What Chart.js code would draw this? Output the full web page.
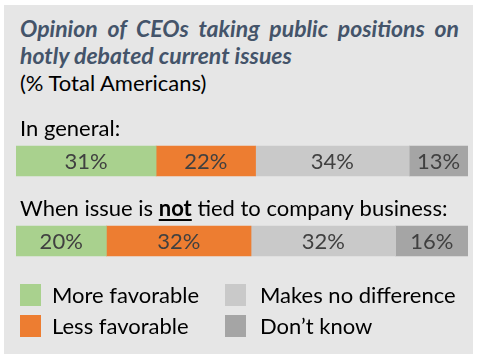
<!DOCTYPE html>
<html>
<head>
<meta charset="utf-8">
<script src="https://cdn.jsdelivr.net/npm/chart.js@4.4.1/dist/chart.umd.min.js"></script>
<style>
  html, body { margin: 0; padding: 0; background: #ffffff; width: 477px; height: 359px; overflow: hidden; }
  #box { position: absolute; left: 4px; top: 5px; width: 469px; height: 349px; background: #e6e6e6; }
  .title { position: absolute; left: 20px; width: 439px; font-family: 'Lato', sans-serif; font-weight: bold; font-style: italic; font-size: 23px; line-height: 27px; color: #44546a; white-space: nowrap; }
  #t1 { top: 15px; text-align: justify; text-align-last: justify; white-space: normal; }
  #t2 { top: 42px; }
  #sub { position: absolute; left: 20px; top: 69px; font-family: 'Lato', sans-serif; font-size: 22px; line-height: 27px; color: #000; white-space: nowrap; }
  #chart { position: absolute; left: 0; top: 0; }
  .lg { position: absolute; font-family: 'Lato', sans-serif; font-size: 22px; color: #000; white-space: nowrap; line-height: 22px; }
  .sw { position: absolute; width: 21px; height: 22px; }
</style>
</head>
<body>
<div id="box"></div>
<div class="title" id="t1">Opinion of CEOs taking public positions on</div>
<div class="title" id="t2">hotly debated current issues</div>
<div id="sub">(% Total Americans)</div>
<canvas id="chart" width="477" height="359"></canvas>
<div id="legend"></div>
<script>
// ---- data ----
const categories = ["In general:", "When issue is not tied to company business:"];
const seriesNames = ["More favorable", "Less favorable", "Makes no difference", "Don\u2019t know"];
const moreFavorable = [31, 20];
const lessFavorable = [22, 32];
const makesNoDifference = [34, 32];
const dontKnow = [13, 16];

// ---- styles ----
const colors = ["#a9d18e", "#ed7d31", "#c9c9c9", "#a5a5a5"];
const emphasisWord = "not";
const FONT = "Lato, sans-serif";

const seriesValues = [moreFavorable, lessFavorable, makesNoDifference, dontKnow];

const valueLabels = {
  id: 'valueLabels',
  afterDatasetsDraw(chart) {
    const ctx = chart.ctx;
    ctx.save();
    ctx.font = "22px " + FONT;
    ctx.fillStyle = "#404040";
    ctx.textAlign = "center";
    ctx.textBaseline = "middle";
    chart.data.datasets.forEach((ds, i) => {
      const meta = chart.getDatasetMeta(i);
      meta.data.forEach((el, j) => {
        const p = el.getProps(['x', 'y', 'base'], true);
        ctx.fillText(ds.data[j] + "%", (p.x + p.base) / 2, p.y + 1);
      });
    });
    ctx.restore();
  }
};

const categoryLabels = {
  id: 'categoryLabels',
  afterDraw(chart) {
    const ctx = chart.ctx;
    const ys = chart.scales.y;
    ctx.save();
    ctx.fillStyle = "#000";
    ctx.textBaseline = "alphabetic";
    ctx.textAlign = "left";
    chart.data.labels.forEach((lab, i) => {
      const yc = ys.getPixelForValue(i);
      const baseline = yc - 15 - 10;
      let x = 20;
      const parts = lab.split(new RegExp("(\\b" + emphasisWord + "\\b)"));
      parts.forEach(part => {
        if (!part) return;
        const emph = part === emphasisWord;
        ctx.font = (emph ? "bold " : "") + "22px " + FONT;
        ctx.fillText(part, x, baseline);
        const w = ctx.measureText(part).width;
        if (emph) {
          ctx.fillRect(x, baseline + 3, w, 2);
        }
        x += w;
      });
    });
    ctx.restore();
  }
};

const chart = new Chart(document.getElementById('chart'), {
  type: 'bar',
  data: {
    labels: categories,
    datasets: seriesNames.map((name, i) => ({
      label: name,
      data: seriesValues[i],
      backgroundColor: colors[i],
      borderWidth: 0,
      barThickness: 30
    }))
  },
  options: {
    indexAxis: 'y',
    responsive: false,
    animation: false,
    devicePixelRatio: 1,
    layout: { padding: { left: 16, right: 9, top: 121, bottom: 78 } },
    scales: {
      x: { stacked: true, min: 0, max: 100, display: false },
      y: { stacked: true, display: false }
    },
    plugins: {
      legend: { display: false },
      tooltip: { enabled: false },
      title: { display: false }
    }
  },
  plugins: [valueLabels, categoryLabels]
});

// HTML legend built from the chart's own legend items (column-major, 2 columns)
const items = chart.options.plugins.legend.labels.generateLabels(chart);
const legend = document.getElementById('legend');
const colX = [20, 225];
const textX = [52, 260];
const rowY = [284, 315];
items.forEach((it, k) => {
  const col = Math.floor(k / 2), row = k % 2;
  const sw = document.createElement('div');
  sw.className = 'sw';
  sw.style.left = colX[col] + 'px';
  sw.style.top = rowY[row] + 'px';
  sw.style.background = it.fillStyle;
  legend.appendChild(sw);
  const t = document.createElement('div');
  t.className = 'lg';
  t.style.left = textX[col] + 'px';
  t.style.top = (rowY[row]) + 'px';
  t.textContent = it.text;
  legend.appendChild(t);
});
</script>
</body>
</html>
